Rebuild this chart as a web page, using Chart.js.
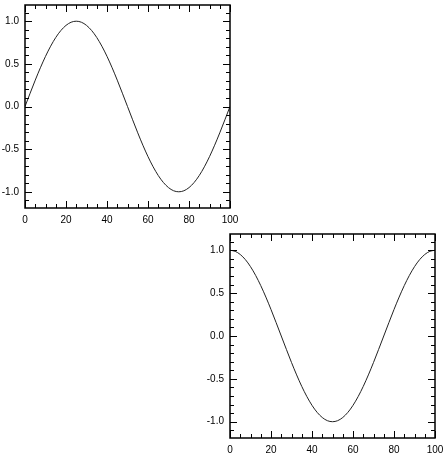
<!DOCTYPE html>
<html><head><meta charset="utf-8">
<script src="https://cdn.jsdelivr.net/npm/chart.js@4/dist/chart.umd.min.js"></script>
<style>
html,body{margin:0;padding:0;background:#fff;width:445px;height:455px;overflow:hidden}
canvas{position:absolute}
#c1{left:0;top:0}
#c2{left:205px;top:229px}
</style></head><body>
<canvas id="c1" width="240" height="230"></canvas>
<canvas id="c2" width="240" height="226"></canvas>
<script>
// ---- data ----
const xValues = [0,2.5,5,7.5,10,12.5,15,17.5,20,22.5,25,27.5,30,32.5,35,37.5,40,42.5,45,47.5,50,
  52.5,55,57.5,60,62.5,65,67.5,70,72.5,75,77.5,80,82.5,85,87.5,90,92.5,95,97.5,100];
const topValues = [0,0.156,0.309,0.454,0.588,0.707,0.809,0.891,0.951,0.988,1,0.988,0.951,0.891,0.809,0.707,0.588,0.454,0.309,0.156,0,
  -0.156,-0.309,-0.454,-0.588,-0.707,-0.809,-0.891,-0.951,-0.988,-1,-0.988,-0.951,-0.891,-0.809,-0.707,-0.588,-0.454,-0.309,-0.156,0];
const bottomValues = [1,0.988,0.951,0.891,0.809,0.707,0.588,0.454,0.309,0.156,0,-0.156,-0.309,-0.454,-0.588,-0.707,-0.809,-0.891,-0.951,-0.988,-1,
  -0.988,-0.951,-0.891,-0.809,-0.707,-0.588,-0.454,-0.309,-0.156,0,0.156,0.309,0.454,0.588,0.707,0.809,0.891,0.951,0.988,1];
const xTickLabels = [0,20,40,60,80,100];
const yTickLabels = [-1.0,-0.5,0.0,0.5,1.0];
const xMinorStep = 5;
const yMinorStep = 0.1;
const xMin = 0, xMax = 100;
const yMin = -1.19, yMax = 1.19;

const FONT = {family:'"Liberation Sans", Arial, Helvetica, sans-serif', size:10};

const frameTicks = {
  id:'frameTicks',
  afterDraw(chart){
    const ctx = chart.ctx, a = chart.chartArea, xs = chart.scales.x, ys = chart.scales.y;
    const MAJ = 7, MIN = 4;
    ctx.save();
    ctx.strokeStyle = '#000';
    ctx.lineWidth = 1;
    ctx.beginPath();
    const isMajor = (v, arr) => arr.some(t => Math.abs(t - v) < 1e-6);
    for (let i = 0; ; i++) {
      const v = xMin + i * xMinorStep;
      if (v > xMax + 1e-9) break;
      const px = Math.round(xs.getPixelForValue(v)) + 0.5;
      const L = isMajor(v, xTickLabels) ? MAJ : MIN;
      ctx.moveTo(px, a.bottom); ctx.lineTo(px, a.bottom - L);
      ctx.moveTo(px, a.top); ctx.lineTo(px, a.top + L);
    }
    const start = Math.ceil(yMin / yMinorStep - 1e-9);
    const end = Math.floor(yMax / yMinorStep + 1e-9);
    for (let i = start; i <= end; i++) {
      const v = i * yMinorStep;
      const py = Math.round(ys.getPixelForValue(v)) + 0.5;
      const L = isMajor(v, yTickLabels) ? MAJ : MIN;
      ctx.moveTo(a.left, py); ctx.lineTo(a.left + L, py);
      ctx.moveTo(a.right, py); ctx.lineTo(a.right - L, py);
    }
    ctx.stroke();
    ctx.lineWidth = 1.5;
    ctx.strokeRect(a.left, a.top, a.right - a.left, a.bottom - a.top);
    ctx.restore();
  }
};

function zeroPad(s){ s.paddingTop = 0; s.paddingBottom = 0; s.paddingLeft = 0; s.paddingRight = 0; }

function makeChart(id, values, xAxisHeight){
  const pts = xValues.map((x, i) => ({x, y: values[i]}));
  return new Chart(document.getElementById(id), {
    type:'line',
    data:{datasets:[{data:pts, borderColor:'#222', borderWidth:1, pointRadius:0,
      cubicInterpolationMode:'monotone', fill:false}]},
    options:{
      responsive:false, animation:false, devicePixelRatio:1,
      layout:{padding:{top:5, right:10, left:0, bottom:0}},
      plugins:{legend:{display:false}, tooltip:{enabled:false}},
      scales:{
        x:{type:'linear', min:xMin, max:xMax,
          grid:{display:false, drawTicks:false}, border:{display:false},
          afterBuildTicks:s => { s.ticks = xTickLabels.map(v => ({value:v})); },
          afterFit:s => { s.height = xAxisHeight; zeroPad(s); },
          ticks:{font:FONT, color:'#000', padding:6, maxRotation:0, autoSkip:false,
            callback:v => String(v)}},
        y:{type:'linear', min:yMin, max:yMax,
          grid:{display:false, drawTicks:false}, border:{display:false},
          afterBuildTicks:s => { s.ticks = yTickLabels.map(v => ({value:v})); },
          afterFit:s => { s.width = 25; zeroPad(s); },
          ticks:{font:FONT, color:'#000', padding:6, autoSkip:false,
            callback:v => Number(v).toFixed(1)}}
      }
    },
    plugins:[frameTicks]
  });
}
makeChart('c1', topValues, 22);
makeChart('c2', bottomValues, 17);
</script>
</body></html>
